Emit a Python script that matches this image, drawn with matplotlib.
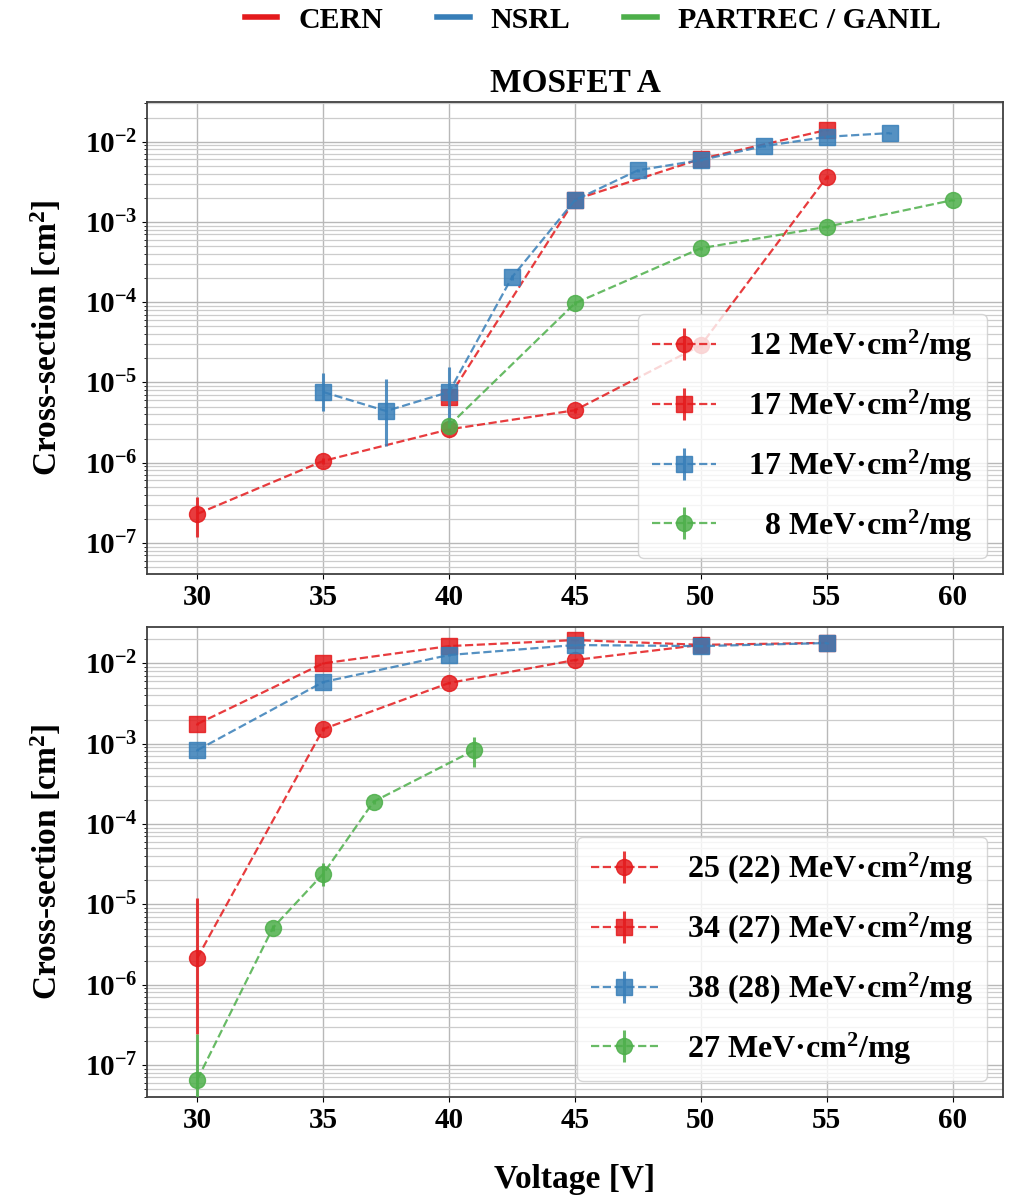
import numpy as np
import matplotlib
matplotlib.use('Agg')
import matplotlib.pyplot as plt
from matplotlib.lines import Line2D
from matplotlib.ticker import LogLocator, NullFormatter

plt.rcParams['font.family'] = ['Liberation Serif', 'DejaVu Serif']
plt.rcParams['font.weight'] = 'bold'
plt.rcParams['axes.labelweight'] = 'bold'
plt.rcParams['axes.titleweight'] = 'bold'
plt.rcParams['mathtext.fontset'] = 'custom'
plt.rcParams['mathtext.rm'] = 'Liberation Serif:bold'
plt.rcParams['mathtext.bf'] = 'Liberation Serif:bold'
plt.rcParams['mathtext.it'] = 'Liberation Serif:italic:bold'
plt.rcParams['mathtext.default'] = 'rm'

RED = '#e41a1c'
BLUE = '#377eb8'
GREEN = '#4daf4a'

# ---- MOSFET A, upper panel ----
a_cern12_v = [30, 35, 40, 45, 50, 55]
a_cern12_y = [2.3e-7, 1.05e-6, 2.6e-6, 4.5e-6, 2.9e-5, 3.6e-3]
a_cern12_lo = [1.2e-7, 0.95e-6, 2.4e-6, 4.2e-6, 2.7e-5, 3.4e-3]
a_cern12_hi = [3.7e-7, 1.15e-6, 2.8e-6, 4.8e-6, 3.1e-5, 3.8e-3]

a_cern17_v = [40, 45, 50, 55]
a_cern17_y = [6.6e-6, 1.9e-3, 6.1e-3, 1.4e-2]
a_cern17_lo = [5.8e-6, 1.8e-3, 5.8e-3, 1.35e-2]
a_cern17_hi = [7.4e-6, 2.0e-3, 6.4e-3, 1.45e-2]

a_nsrl17_v = [35, 37.5, 40, 42.5, 45, 47.5, 50, 52.5, 55, 57.5]
a_nsrl17_y = [7.6e-6, 4.4e-6, 7.6e-6, 2.05e-4, 1.87e-3, 4.4e-3, 5.9e-3, 8.8e-3, 1.15e-2, 1.28e-2]
a_nsrl17_lo = [4.4e-6, 1.6e-6, 3.0e-6, 1.9e-4, 1.8e-3, 4.2e-3, 5.7e-3, 8.5e-3, 1.1e-2, 1.24e-2]
a_nsrl17_hi = [1.3e-5, 1.1e-5, 1.55e-5, 2.2e-4, 1.95e-3, 4.6e-3, 6.1e-3, 9.1e-3, 1.2e-2, 1.32e-2]

a_partrec8_v = [40, 45, 50, 55, 60]
a_partrec8_y = [2.9e-6, 9.7e-5, 4.7e-4, 8.7e-4, 1.87e-3]
a_partrec8_lo = [2.7e-6, 9.2e-5, 4.5e-4, 8.4e-4, 1.8e-3]
a_partrec8_hi = [3.1e-6, 1.02e-4, 4.9e-4, 9.0e-4, 1.95e-3]

a_labels = ['12 MeV·cm$^{2}$/mg', '17 MeV·cm$^{2}$/mg',
            '17 MeV·cm$^{2}$/mg', '  8 MeV·cm$^{2}$/mg']

# ---- lower panel ----
b_cern25_v = [30, 35, 40, 45, 50]
b_cern25_y = [2.16e-6, 1.52e-3, 5.7e-3, 1.1e-2, 1.7e-2]
b_cern25_lo = [2.4e-7, 1.45e-3, 5.5e-3, 1.06e-2, 1.65e-2]
b_cern25_hi = [1.2e-5, 1.6e-3, 5.9e-3, 1.14e-2, 1.75e-2]

b_cern34_v = [30, 35, 40, 45, 50, 55]
b_cern34_y = [1.76e-3, 1.0e-2, 1.64e-2, 1.95e-2, 1.7e-2, 1.8e-2]
b_cern34_lo = [1.7e-3, 0.97e-2, 1.6e-2, 1.9e-2, 1.65e-2, 1.75e-2]
b_cern34_hi = [1.82e-3, 1.03e-2, 1.68e-2, 2.0e-2, 1.75e-2, 1.85e-2]

b_nsrl38_v = [30, 35, 40, 45, 50, 55]
b_nsrl38_y = [8.3e-4, 5.86e-3, 1.27e-2, 1.69e-2, 1.64e-2, 1.79e-2]
b_nsrl38_lo = [8.0e-4, 5.7e-3, 1.23e-2, 1.65e-2, 1.6e-2, 1.75e-2]
b_nsrl38_hi = [8.6e-4, 6.0e-3, 1.31e-2, 1.73e-2, 1.68e-2, 1.83e-2]

b_partrec27_v = [30, 33, 35, 37, 41]
b_partrec27_y = [6.6e-8, 5.1e-6, 2.4e-5, 1.9e-4, 8.3e-4]
b_partrec27_lo = [2e-8, 4.7e-6, 1.7e-5, 1.8e-4, 5.1e-4]
b_partrec27_hi = [2.4e-7, 5.5e-6, 3.3e-5, 2.0e-4, 1.2e-3]

b_labels = ['25 (22) MeV·cm$^{2}$/mg', '34 (27) MeV·cm$^{2}$/mg',
            '38 (28) MeV·cm$^{2}$/mg', '27 MeV·cm$^{2}$/mg']

xticks = [30, 35, 40, 45, 50, 55, 60]


def series(ax, v, y, lo, hi, color, marker, label, z):
    y = np.array(y)
    err = [y - np.array(lo), np.array(hi) - y]
    ax.errorbar(v, y, yerr=err, fmt=marker + '--', color=color, ms=11.5,
                lw=1.6, elinewidth=2.2, capsize=0, alpha=0.85,
                label=label, zorder=z)


def style(ax, ylim):
    ax.set_yscale('log')
    ax.set_xlim(28, 62)
    ax.set_ylim(*ylim)
    ax.set_xticks(xticks)
    ax.yaxis.set_major_locator(LogLocator(base=10, numticks=20))
    ax.yaxis.set_minor_locator(LogLocator(base=10, subs=np.arange(2, 10), numticks=100))
    ax.yaxis.set_minor_formatter(NullFormatter())
    ax.grid(True, which='major', color='0.72', lw=1.0)
    ax.grid(True, which='minor', axis='y', color='0.8', lw=0.9)
    ax.tick_params(labelsize=21)
    for s in ax.spines.values():
        s.set_color('0.25')
        s.set_linewidth(1.3)
    ax.set_ylabel('Cross-section [cm$^{2}$]', fontsize=24, fontweight='bold')
    ax.yaxis.set_label_coords(-0.097, 0.5)


fig = plt.figure(figsize=(10.13, 12.01), dpi=100)
ax1 = fig.add_axes([0.1451, 0.5221, 0.845, 0.393])
ax2 = fig.add_axes([0.1451, 0.0866, 0.845, 0.3913])

series(ax1, a_cern12_v, a_cern12_y, a_cern12_lo, a_cern12_hi, RED, 'o', a_labels[0], 3)
series(ax1, a_cern17_v, a_cern17_y, a_cern17_lo, a_cern17_hi, RED, 's', a_labels[1], 4)
series(ax1, a_nsrl17_v, a_nsrl17_y, a_nsrl17_lo, a_nsrl17_hi, BLUE, 's', a_labels[2], 5)
series(ax1, a_partrec8_v, a_partrec8_y, a_partrec8_lo, a_partrec8_hi, GREEN, 'o', a_labels[3], 6)
style(ax1, (10 ** -7.387, 10 ** -1.505))
ax1.set_title('MOSFET A', fontsize=24, fontweight='bold', pad=7)
ax1.legend(loc='lower right', fontsize=23, handlelength=2.0, handletextpad=1.0,
           labelspacing=0.74, borderpad=0.45, fancybox=True, framealpha=0.8)

series(ax2, b_cern25_v, b_cern25_y, b_cern25_lo, b_cern25_hi, RED, 'o', b_labels[0], 3)
series(ax2, b_cern34_v, b_cern34_y, b_cern34_lo, b_cern34_hi, RED, 's', b_labels[1], 4)
series(ax2, b_nsrl38_v, b_nsrl38_y, b_nsrl38_lo, b_nsrl38_hi, BLUE, 's', b_labels[2], 5)
series(ax2, b_partrec27_v, b_partrec27_y, b_partrec27_lo, b_partrec27_hi, GREEN, 'o', b_labels[3], 6)
style(ax2, (10 ** -7.398, 10 ** -1.548))
ax2.legend(loc='lower right', fontsize=23, handlelength=2.1, handletextpad=0.9,
           labelspacing=0.74, borderpad=0.45, fancybox=True, framealpha=0.8)

fig.text(0.5676, 0.0175, 'Voltage [V]', ha='center', va='center', fontsize=24,
         fontweight='bold')

facility = [Line2D([], [], color=RED, lw=4), Line2D([], [], color=BLUE, lw=4),
            Line2D([], [], color=GREEN, lw=4)]
fig.legend(facility, ['CERN', 'NSRL', 'PARTREC / GANIL'], loc='center',
           bbox_to_anchor=(0.585, 0.983), ncol=3, frameon=False, fontsize=21.5,
           handlelength=1.1, handletextpad=0.7, columnspacing=1.8)

fig.savefig('out.png', dpi=100)
